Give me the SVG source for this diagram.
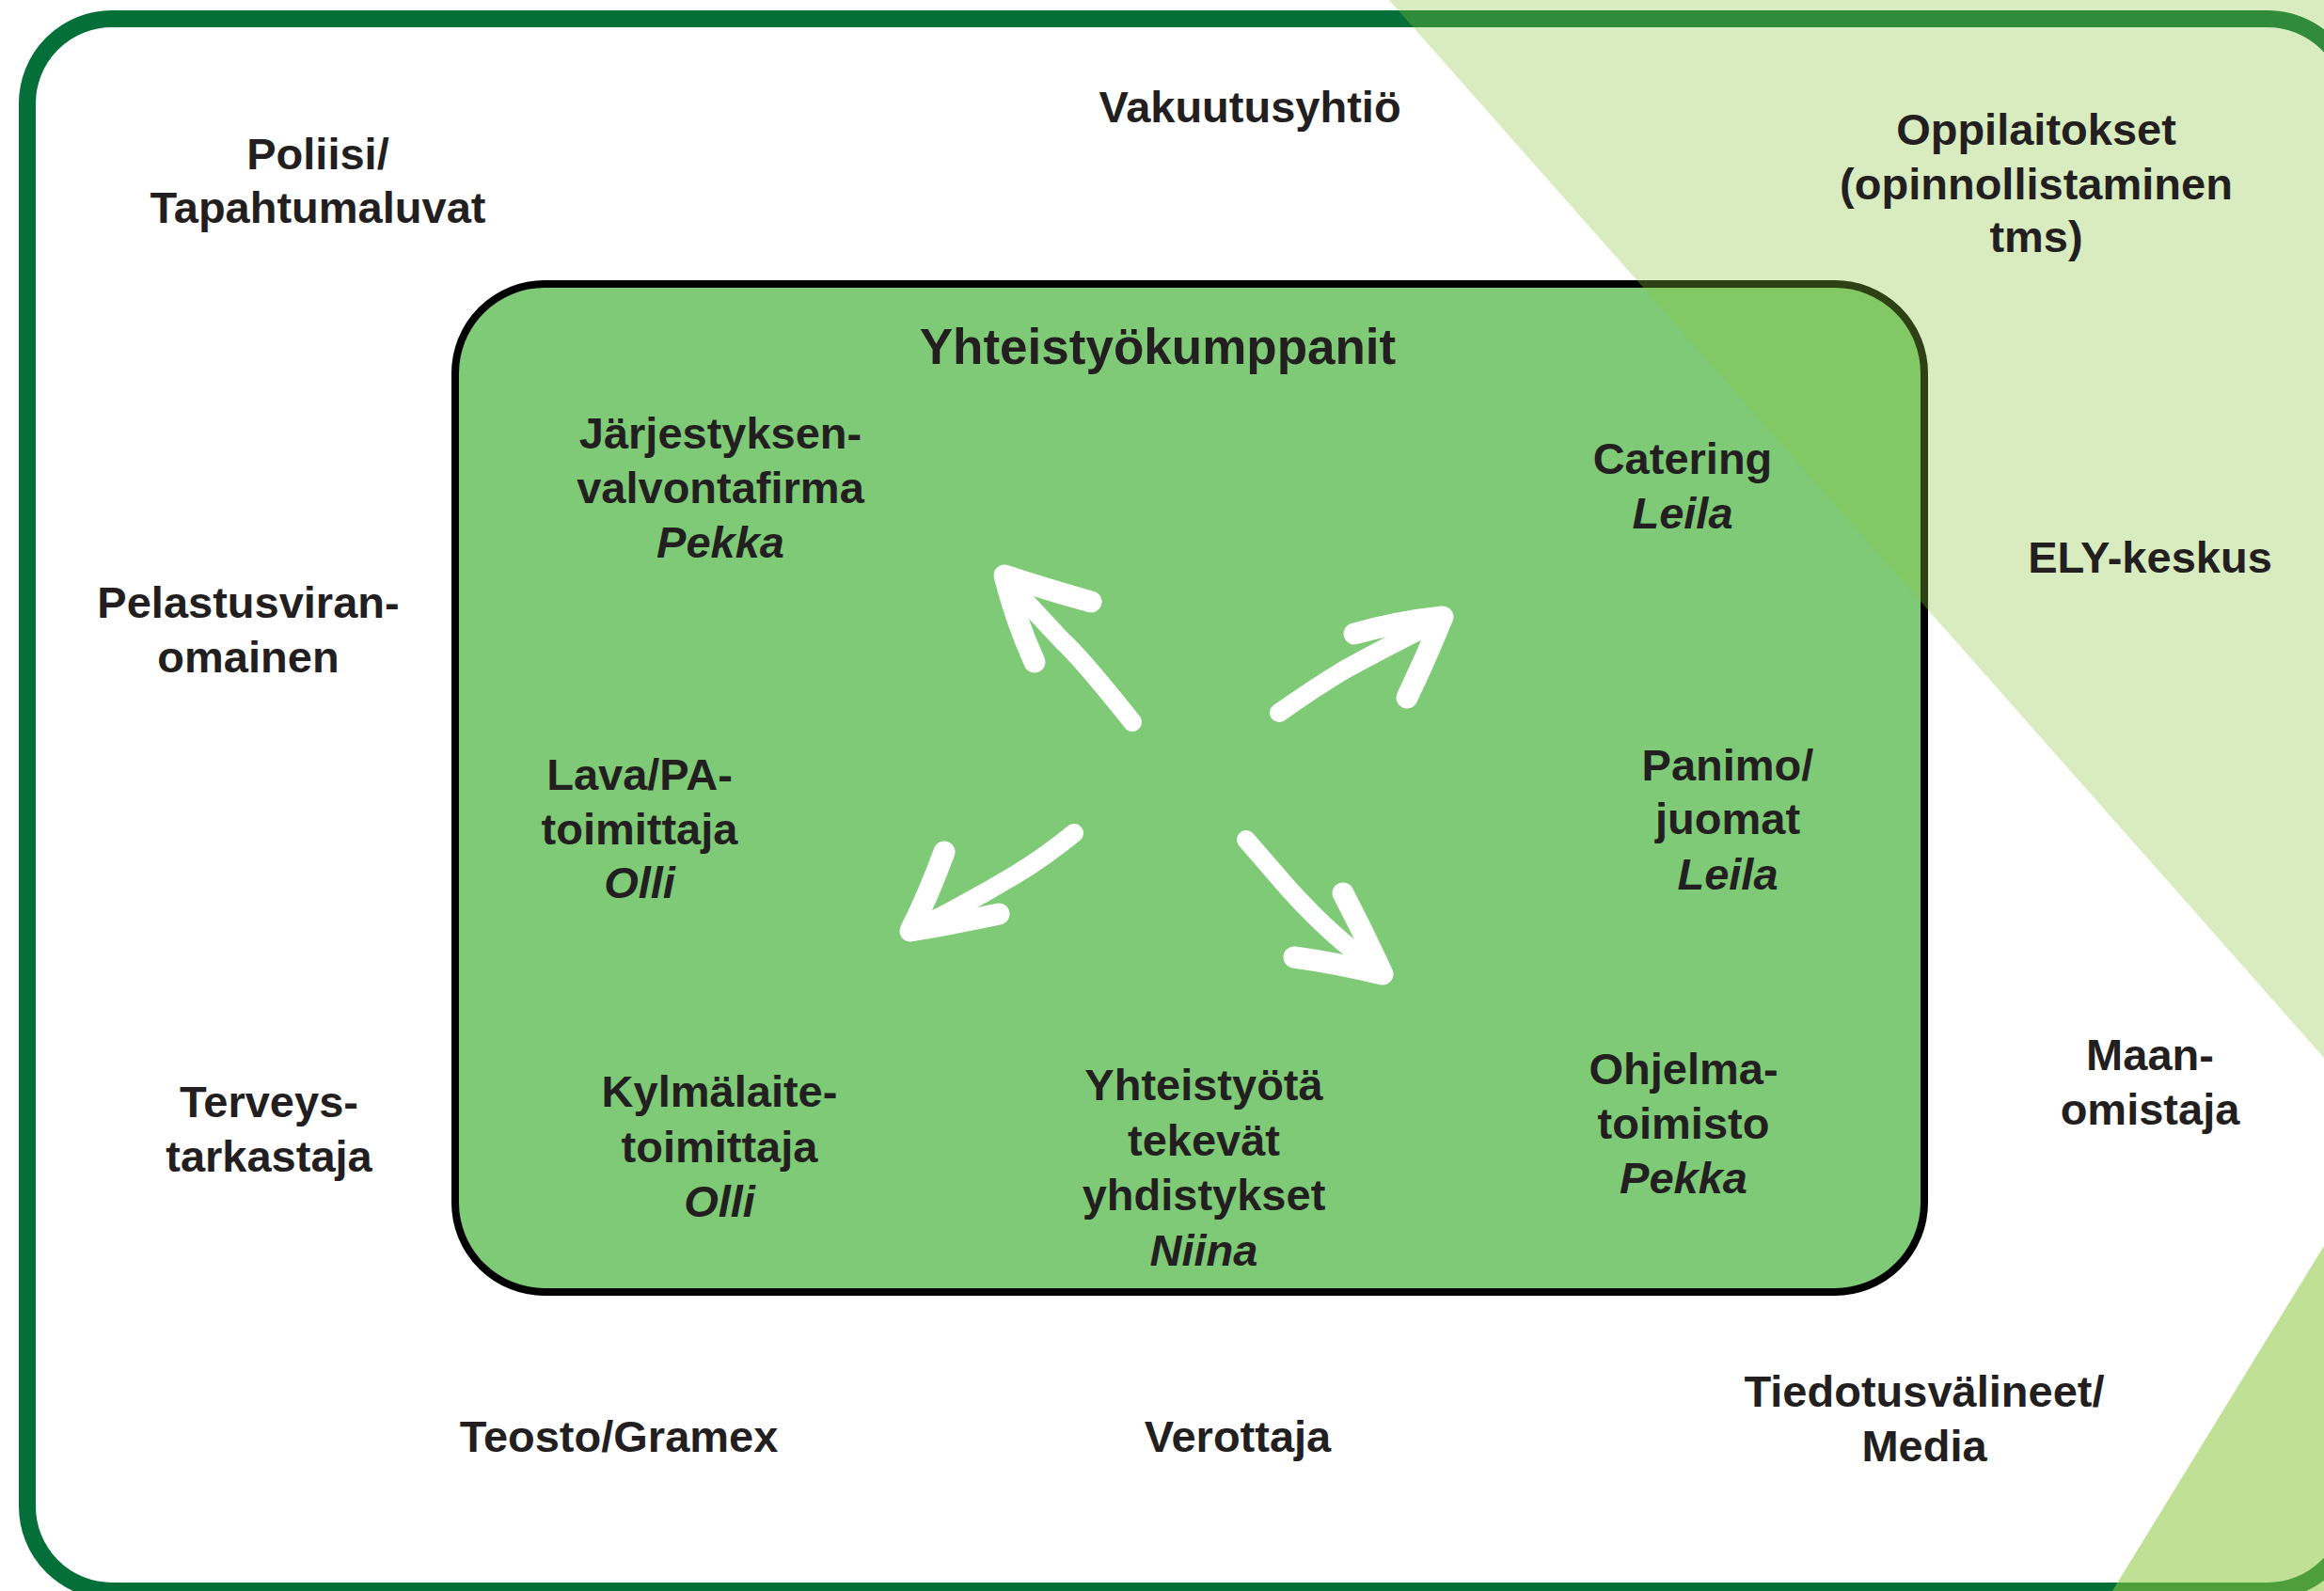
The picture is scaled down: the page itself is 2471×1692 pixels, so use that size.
<svg xmlns="http://www.w3.org/2000/svg" width="2471" height="1692" viewBox="0 0 2471 1692">
  <style>
    .lbl { font-family: "Liberation Sans", Arial, sans-serif; font-weight: bold; font-size: 47px; fill: #231f20; text-anchor: middle; }
    .who { font-style: italic; }
    .title { font-size: 53px; }
    .arrow { fill: none; stroke: #ffffff; stroke-linecap: round; stroke-linejoin: round; }
    .shaft { stroke-width: 20; }
    .head { stroke-width: 23; }
  </style>

  <!-- page -->
  <rect x="0" y="0" width="2471" height="1692" fill="#ffffff"/>

  <!-- outer frame -->
  <rect id="frame" x="29" y="20" width="2472" height="1672" rx="90" ry="90" fill="none" stroke="#046f38" stroke-width="18"/>

  <!-- partner box -->
  <g id="partners-box">
    <rect x="484" y="302" width="1562" height="1072" rx="95" ry="95" fill="#7eca76" stroke="#000000" stroke-width="8"/>
  </g>

  <!-- translucent corner wedges -->
  <polygon points="1477,0 2471,0 2471,1125" fill="#8dc63f" fill-opacity="0.33"/>
  <polygon points="2471,1325 2471,1692 2246,1692" fill="#8dc63f" fill-opacity="0.55"/>

  <!-- outside stakeholders -->
  <g id="poliisi">
    <text class="lbl" x="338" y="180">Poliisi/</text>
    <text class="lbl" x="338" y="237">Tapahtumaluvat</text>
  </g>
  <g id="vakuutusyhtio">
    <text class="lbl" x="1329" y="130">Vakuutusyhtiö</text>
  </g>
  <g id="oppilaitokset">
    <text class="lbl" x="2165" y="154">Oppilaitokset</text>
    <text class="lbl" x="2165" y="212">(opinnollistaminen</text>
    <text class="lbl" x="2165" y="268">tms)</text>
  </g>
  <g id="ely">
    <text class="lbl" x="2286" y="609">ELY-keskus</text>
  </g>
  <g id="pelastus">
    <text class="lbl" x="264" y="657">Pelastusviran-</text>
    <text class="lbl" x="264" y="715">omainen</text>
  </g>
  <g id="terveys">
    <text class="lbl" x="286" y="1188">Terveys-</text>
    <text class="lbl" x="286" y="1246">tarkastaja</text>
  </g>
  <g id="maanomistaja">
    <text class="lbl" x="2286" y="1138">Maan-</text>
    <text class="lbl" x="2286" y="1196">omistaja</text>
  </g>
  <g id="teosto">
    <text class="lbl" x="658" y="1544">Teosto/Gramex</text>
  </g>
  <g id="verottaja">
    <text class="lbl" x="1316" y="1544">Verottaja</text>
  </g>
  <g id="media">
    <text class="lbl" x="2046" y="1496">Tiedotusvälineet/</text>
    <text class="lbl" x="2046" y="1554">Media</text>
  </g>

  <!-- partners inside the box -->
  <g id="title">
    <text class="lbl title" x="1231" y="387">Yhteistyökumppanit</text>
  </g>
  <g id="jarjestys">
    <text class="lbl" x="766" y="477">Järjestyksen-</text>
    <text class="lbl" x="766" y="535">valvontafirma</text>
    <text class="lbl who" x="766" y="593">Pekka</text>
  </g>
  <g id="catering">
    <text class="lbl" x="1789" y="504">Catering</text>
    <text class="lbl who" x="1789" y="562">Leila</text>
  </g>
  <g id="lava">
    <text class="lbl" x="680" y="840">Lava/PA-</text>
    <text class="lbl" x="680" y="898">toimittaja</text>
    <text class="lbl who" x="680" y="955">Olli</text>
  </g>
  <g id="panimo">
    <text class="lbl" x="1837" y="830">Panimo/</text>
    <text class="lbl" x="1837" y="887">juomat</text>
    <text class="lbl who" x="1837" y="946">Leila</text>
  </g>
  <g id="kylmalaite">
    <text class="lbl" x="765" y="1177">Kylmälaite-</text>
    <text class="lbl" x="765" y="1236">toimittaja</text>
    <text class="lbl who" x="765" y="1294">Olli</text>
  </g>
  <g id="yhdistykset">
    <text class="lbl" x="1280" y="1170">Yhteistyötä</text>
    <text class="lbl" x="1280" y="1229">tekevät</text>
    <text class="lbl" x="1280" y="1287">yhdistykset</text>
    <text class="lbl who" x="1280" y="1346">Niina</text>
  </g>
  <g id="ohjelma">
    <text class="lbl" x="1790" y="1153">Ohjelma-</text>
    <text class="lbl" x="1790" y="1211">toimisto</text>
    <text class="lbl who" x="1790" y="1269">Pekka</text>
  </g>

  <!-- brush arrows pointing outwards -->
  <g id="connectors">
    <path class="arrow shaft" d="M1204,768 Q1150,700 1130,682 Q1100,650 1078,626"/>
    <path class="arrow head" d="M1160,640 Q1110,626 1068,612 Q1080,660 1100,704"/>

    <path class="arrow shaft" d="M1360,758 Q1400,730 1430,712 Q1470,690 1522,664"/>
    <path class="arrow head" d="M1440,674 Q1490,660 1534,656 Q1516,700 1496,742"/>

    <path class="arrow shaft" d="M1142,886 Q1110,912 1080,930 Q1030,960 982,984"/>
    <path class="arrow head" d="M1004,906 Q988,950 968,990 Q1015,982 1062,972"/>

    <path class="arrow shaft" d="M1325,893 Q1350,922 1370,945 Q1420,1000 1460,1026"/>
    <path class="arrow head" d="M1428,950 Q1450,992 1470,1036 Q1420,1024 1376,1018"/>
  </g>
</svg>
